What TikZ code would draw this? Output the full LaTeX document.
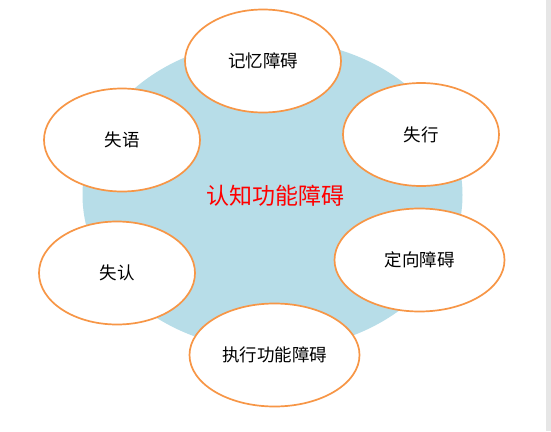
\documentclass[tikz,border=0pt]{standalone}
\usepackage{fontspec}
\usetikzlibrary{shapes.geometric}
\newfontfamily\cjk{Noto Sans CJK SC}
\definecolor{bgblue}{HTML}{B7DDE8}
\definecolor{rimorange}{HTML}{F79646}
\definecolor{stripgray}{HTML}{E6E6E6}
\tikzset{
  hub/.style={ellipse, fill=bgblue, draw=none, inner sep=0pt,
    minimum width=380pt, minimum height=310pt},
  bubble/.style={ellipse, fill=white, draw=rimorange, line width=1.7pt,
    inner sep=0pt, minimum height=103pt,
    font=\cjk\fontsize{17.5}{20}\selectfont, text=black},
  narrow/.style={bubble, minimum width=156pt},
  wide/.style={bubble, minimum width=170pt}
}
\begin{document}
\begin{tikzpicture}[x=1pt, y=-1pt]
\useasboundingbox (0,0) rectangle (551,431);
\fill[white] (0,0) rectangle (551,431);
\fill[stripgray] (546,0) rectangle (551,431);
\node[hub] (hub) at (272.5,195) {};
\node[font=\cjk\fontsize{23}{26}\selectfont, text=red, inner sep=0pt] (title) at (275,196) {认知功能障碍};
\node[narrow] (memory) at (263,61) {记忆障碍};
\node[narrow] (apraxia) at (421,134.5) {失行};
\node[narrow] (aphasia) at (122,140) {失语};
\node[wide] (orient) at (419.5,260) {定向障碍};
\node[narrow] (agnosia) at (117,273) {失认};
\node[wide] (exec) at (274.5,355) {执行功能障碍};
\end{tikzpicture}
\end{document}
